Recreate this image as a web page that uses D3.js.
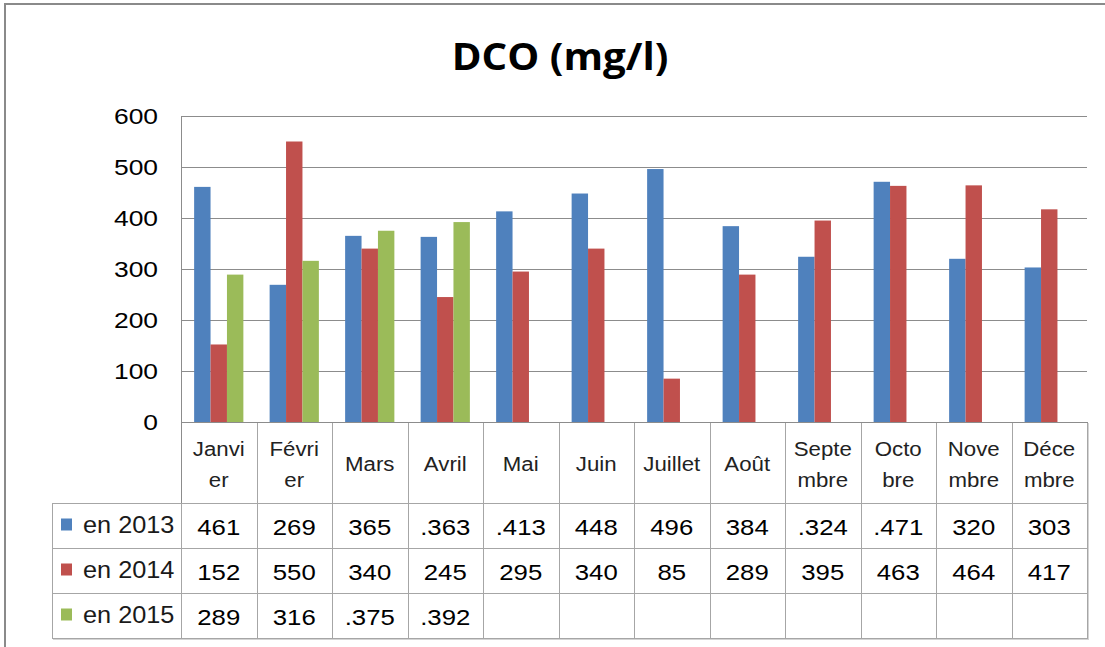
<!DOCTYPE html>
<html>
<head>
<meta charset="utf-8">
<script src="https://cdn.jsdelivr.net/npm/d3@7"></script>
<style>
  html, body { margin: 0; padding: 0; background: #fff; }
  svg { display: block; }
</style>
</head>
<body>
<svg id="chart" width="1105" height="647"></svg>
<script>
// Monthly DCO (mg/l) values, as printed in the data table
const months = ["Janvier", "Février", "Mars", "Avril", "Mai", "Juin", "Juillet", "Août", "Septembre", "Octobre", "Novembre", "Décembre"];
const monthLines = [["Janvi", "er"], ["Févri", "er"], ["Mars"], ["Avril"], ["Mai"], ["Juin"], ["Juillet"], ["Août"], ["Septe", "mbre"], ["Octo", "bre"], ["Nove", "mbre"], ["Déce", "mbre"]];
const seriesNames = ["en 2013", "en 2014", "en 2015"];
const values2013 = ["461", "269", "365", ".363", ".413", "448", "496", "384", ".324", ".471", "320", "303"];
const values2014 = ["152", "550", "340", "245", "295", "340", "85", "289", "395", "463", "464", "417"];
const values2015 = ["289", "316", ".375", ".392", "", "", "", "", "", "", "", ""];
const yTicks = [0, 100, 200, 300, 400, 500, 600];
const colors = ["#4F81BD", "#C0504D", "#9BBB59"];

const seriesLabels = [values2013, values2014, values2015];
// table cells use "." as a thousands-style mark; the numeric value ignores it
const toNumber = s => s === "" ? null : +s.replace(".", "");

const svg = d3.select("#chart");

// outer chart frame
svg.append("rect")
  .attr("x", 5).attr("y", 4).attr("width", 1120).attr("height", 670)
  .attr("fill", "none").attr("stroke", "#8a8a8a").attr("stroke-width", 2);

// horizontally widened text helper
function placeText(sel, x, y, sx) {
  sel.attr("x", 0).attr("y", 0)
     .attr("transform", `translate(${x},${y}) scale(${sx},1)`);
  return sel;
}

// title
const title = svg.append("text")
  .attr("text-anchor", "middle")
  .attr("font-family", "'Open Sans', sans-serif")
  .attr("font-weight", "bold")
  .attr("font-size", 37)
  .attr("fill", "#000")
  .text("DCO (mg/l)");
placeText(title, 560, 70, 1.09);

const plotL = 181, plotR = 1087, plotT = 116, plotB = 422;

const y = d3.scaleLinear().domain([0, 600]).range([plotB, plotT]);
const x0 = d3.scaleBand().domain(months).range([plotL, plotR]).padding(0);
const x1 = d3.scaleBand().domain(seriesNames).range([0, x0.bandwidth()])
  .paddingInner(0).paddingOuter(0.8);

// horizontal gridlines
svg.append("g").selectAll("line")
  .data(yTicks.filter(t => t > 0))
  .join("line")
  .attr("x1", plotL).attr("x2", plotR)
  .attr("y1", d => Math.round(y(d)) + 0.5).attr("y2", d => Math.round(y(d)) + 0.5)
  .attr("stroke", "#8c8c8c").attr("stroke-width", 1);

// y tick labels
const yLab = svg.append("g").selectAll("text")
  .data(yTicks)
  .join("text")
  .attr("text-anchor", "end")
  .attr("font-family", "'Liberation Sans', Arial, sans-serif")
  .attr("font-size", 22)
  .attr("fill", "#000")
  .text(d => d);
yLab.each(function(d) { placeText(d3.select(this), 158, y(d) + 8, 1.2); });

// bars
const barData = [];
months.forEach((m, i) => {
  seriesNames.forEach((s, j) => {
    const v = toNumber(seriesLabels[j][i]);
    if (v !== null) barData.push({ m, s, v, j });
  });
});
svg.append("g").selectAll("rect")
  .data(barData)
  .join("rect")
  .attr("x", d => x0(d.m) + x1(d.s))
  .attr("y", d => y(d.v))
  .attr("width", x1.bandwidth())
  .attr("height", d => plotB - y(d.v))
  .attr("fill", d => colors[d.j]);

// data table
const headerB = 503;
const rowH = 45;
const tableL = 52;
const tableB = headerB + rowH * 3;
const gridColor = "#a6a6a6";
const tbl = svg.append("g");

// shadow along right and bottom edges
tbl.append("line").attr("x1", plotR + 1.5).attr("x2", plotR + 1.5)
  .attr("y1", plotB + 1).attr("y2", tableB + 2).attr("stroke", "#d4d4d4");
tbl.append("line").attr("x1", tableL + 1).attr("x2", plotR + 2)
  .attr("y1", tableB + 1.5).attr("y2", tableB + 1.5).attr("stroke", "#d4d4d4");

// vertical column boundaries
const colEdges = months.map(m => x0(m)).concat([plotR]);
tbl.selectAll("line.col")
  .data(colEdges)
  .join("line").attr("class", "col")
  .attr("x1", d => Math.round(d) + 0.5).attr("x2", d => Math.round(d) + 0.5)
  .attr("y1", plotB).attr("y2", tableB)
  .attr("stroke", gridColor);
tbl.append("line")
  .attr("x1", tableL + 0.5).attr("x2", tableL + 0.5)
  .attr("y1", headerB).attr("y2", tableB)
  .attr("stroke", gridColor);

// horizontal row boundaries
[0, 1, 2, 3].forEach(k => {
  tbl.append("line")
    .attr("x1", tableL).attr("x2", plotR + 1)
    .attr("y1", headerB + k * rowH + 0.5).attr("y2", headerB + k * rowH + 0.5)
    .attr("stroke", gridColor);
});

// value axis line and category baseline
svg.append("line")
  .attr("x1", plotL + 0.5).attr("x2", plotL + 0.5)
  .attr("y1", plotT).attr("y2", headerB)
  .attr("stroke", "#8c8c8c");
svg.append("line")
  .attr("x1", plotL).attr("x2", plotR + 1)
  .attr("y1", plotB + 0.5).attr("y2", plotB + 0.5)
  .attr("stroke", "#8c8c8c");

// month labels in the header row
const headMid = (plotB + headerB) / 2;
months.forEach((m, i) => {
  const lines = monthLines[i];
  const cx = x0(m) + x0.bandwidth() / 2;
  lines.forEach((ln, k) => {
    const by = lines.length === 1 ? headMid + 8 : headMid - 7 + k * 31;
    const t = tbl.append("text")
      .attr("text-anchor", "middle")
      .attr("font-family", "'Liberation Sans', Arial, sans-serif")
      .attr("font-size", 21)
      .attr("fill", "#222")
      .text(ln);
    placeText(t, cx, by, 1.06);
  });
});

// series rows: legend key, name, values
seriesNames.forEach((s, j) => {
  const rowMid = headerB + j * rowH + rowH / 2;
  tbl.append("rect")
    .attr("x", 61).attr("y", rowMid - 7)
    .attr("width", 11).attr("height", 12)
    .attr("fill", colors[j]);
  const name = tbl.append("text")
    .attr("font-family", "'Liberation Sans', Arial, sans-serif")
    .attr("font-size", 23)
    .attr("fill", "#1a1a1a")
    .text(s);
  placeText(name, 83, rowMid + 7, 1.1);
  seriesLabels[j].forEach((lab, i) => {
    if (lab === "") return;
    const t = tbl.append("text")
      .attr("text-anchor", "middle")
      .attr("font-family", "'Liberation Sans', Arial, sans-serif")
      .attr("font-size", 23)
      .attr("fill", "#000")
      .text(lab);
    placeText(t, x0(months[i]) + x0.bandwidth() / 2, rowMid + 9.5, 1.12);
  });
});
</script>
</body>
</html>
